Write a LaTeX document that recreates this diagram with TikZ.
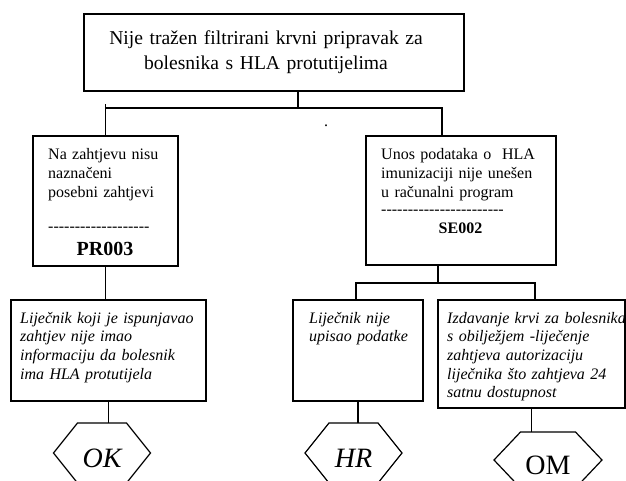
\documentclass[tikz,border=0pt]{standalone}
\usepackage{fontspec}
\setmainfont{Liberation Serif}
\newcommand\fs[2]{\fontsize{#1}{#2}\selectfont}
\newcommand\dashrow[1]{\foreach \i in {1,...,#1}{-\kern0pt}}
\begin{document}
\begin{tikzpicture}[x=1pt,y=-1pt,
  box/.style={draw, line width=1.6pt, inner sep=0pt, outer sep=0pt},
  conn/.style={line width=1.2pt},
  hexline/.style={line width=1.2pt, line join=miter},
  hexnode/.style={inner sep=0pt, outer sep=0pt, minimum width=97pt, text height=28pt, text depth=0pt},
  txt/.style={inner sep=0pt, anchor=base west, align=left, text width=220pt},
  body/.style={font=\fs{16}{19}},
  ibody/.style={font=\fs{16}{18.7}\itshape}]
\useasboundingbox (0,0) rectangle (626,480);

% boxes
\node[box, minimum width=380pt, minimum height=77pt] (top) at (274,52.5) {};
\node[box, minimum width=145pt, minimum height=130pt] (lmid) at (105.5,201) {};
\node[box, minimum width=190pt, minimum height=129pt] (rmid) at (461,200.5) {};
\node[box, minimum width=195pt, minimum height=101pt] (lbot) at (108.5,350.5) {};
\node[box, minimum width=130pt, minimum height=101pt] (hrbox) at (358,350.5) {};
\node[box, minimum width=187pt, minimum height=108pt] (ombox) at (531.5,354) {};

% texts
\node[inner sep=0pt, anchor=base, align=center, text width=380pt, font=\fs{19.6}{25}] (topt) at (266,44)
  {Nije tražen filtrirani krvni pripravak za\\bolesnika s HLA protutijelima};
\node[txt, body] (lmidt) at (48,159) {Na zahtjevu nisu\\naznačeni\\posebni zahtjevi};
\node[txt, body] (lmidd) at (48,231) {\dashrow{19}};
\node[inner sep=0pt, anchor=base, font=\fs{20}{20}\bfseries] (pr) at (105,255) {PR003};
\node[txt, body] (rmidt) at (381,159) {Unos podataka o \ HLA\\imunizaciji nije unešen\\u računalni program};
\node[txt, body] (rmidd) at (381,214) {\dashrow{23}};
\node[inner sep=0pt, anchor=base, font=\fs{16}{16}\bfseries] (se) at (460.5,233) {SE002};
\node[inner sep=0pt, anchor=base, font=\fs{16}{16}] (dot) at (326,126.5) {.};

\node[txt, ibody] (lbott) at (20,323) {Liječnik koji je ispunjavao\\zahtjev nije imao\\informaciju da bolesnik\\ima HLA protutijela};
\node[txt, ibody] (hrt) at (309,323) {Liječnik nije\\upisao podatke};
\node[txt, ibody] (omt) at (447,323) {Izdavanje krvi za bolesnika\\s obilježjem -liječenje\\zahtjeva autorizaciju\\liječnika što zahtjeva 24\\satnu dostupnost};

% hexagons
\node[hexnode, minimum height=60pt, font=\fs{28}{28}\itshape] (ok) at (102,453) {OK};
\node[hexnode, minimum height=60pt, font=\fs{28}{28}\itshape] (hr) at (353.5,453) {HR};
\node[hexnode, minimum width=108pt, minimum height=56pt, font=\fs{28}{28}] (om) at (548,460) {OM};
\foreach \n/\a/\b in {ok/48.5/24.5, hr/48.5/24.5, om/54/27.5}
  \draw[hexline] ([xshift=-\a pt]\n.center) -- ([xshift=-\b pt]\n.north) -- ([xshift=\b pt]\n.north)
     -- ([xshift=\a pt]\n.center) -- ([xshift=\b pt]\n.south) -- ([xshift=-\b pt]\n.south) -- cycle;

% connectors
\coordinate (j0) at (298,108);
\coordinate (jR) at (442,108);
\coordinate (j2) at (438,283);
\coordinate (j2a) at (356,283);
\coordinate (j2b) at (535,283);
\draw[conn] (top.south -| j0) -- (j0);
\draw[conn] ([yshift=4pt]lmid.north |- j0) -- (lmid.north);
\draw[conn] (lmid.north |- j0) -- (jR) -- (jR |- rmid.north);
\draw[conn] (lmid.south) -- (lmid.south |- lbot.north);
\draw[conn] (j2 |- rmid.south) -- (j2);
\draw[conn] (j2a |- hrbox.north) -- (j2a) -- (j2b) -- (j2b |- ombox.north);
\draw[conn] (lbot.south) -- (lbot.south |- ok.north);
\draw[conn] (hrbox.south) -- (hrbox.south |- hr.north);
\draw[conn] (ombox.south) -- (ombox.south |- om.north);
\end{tikzpicture}
\end{document}
